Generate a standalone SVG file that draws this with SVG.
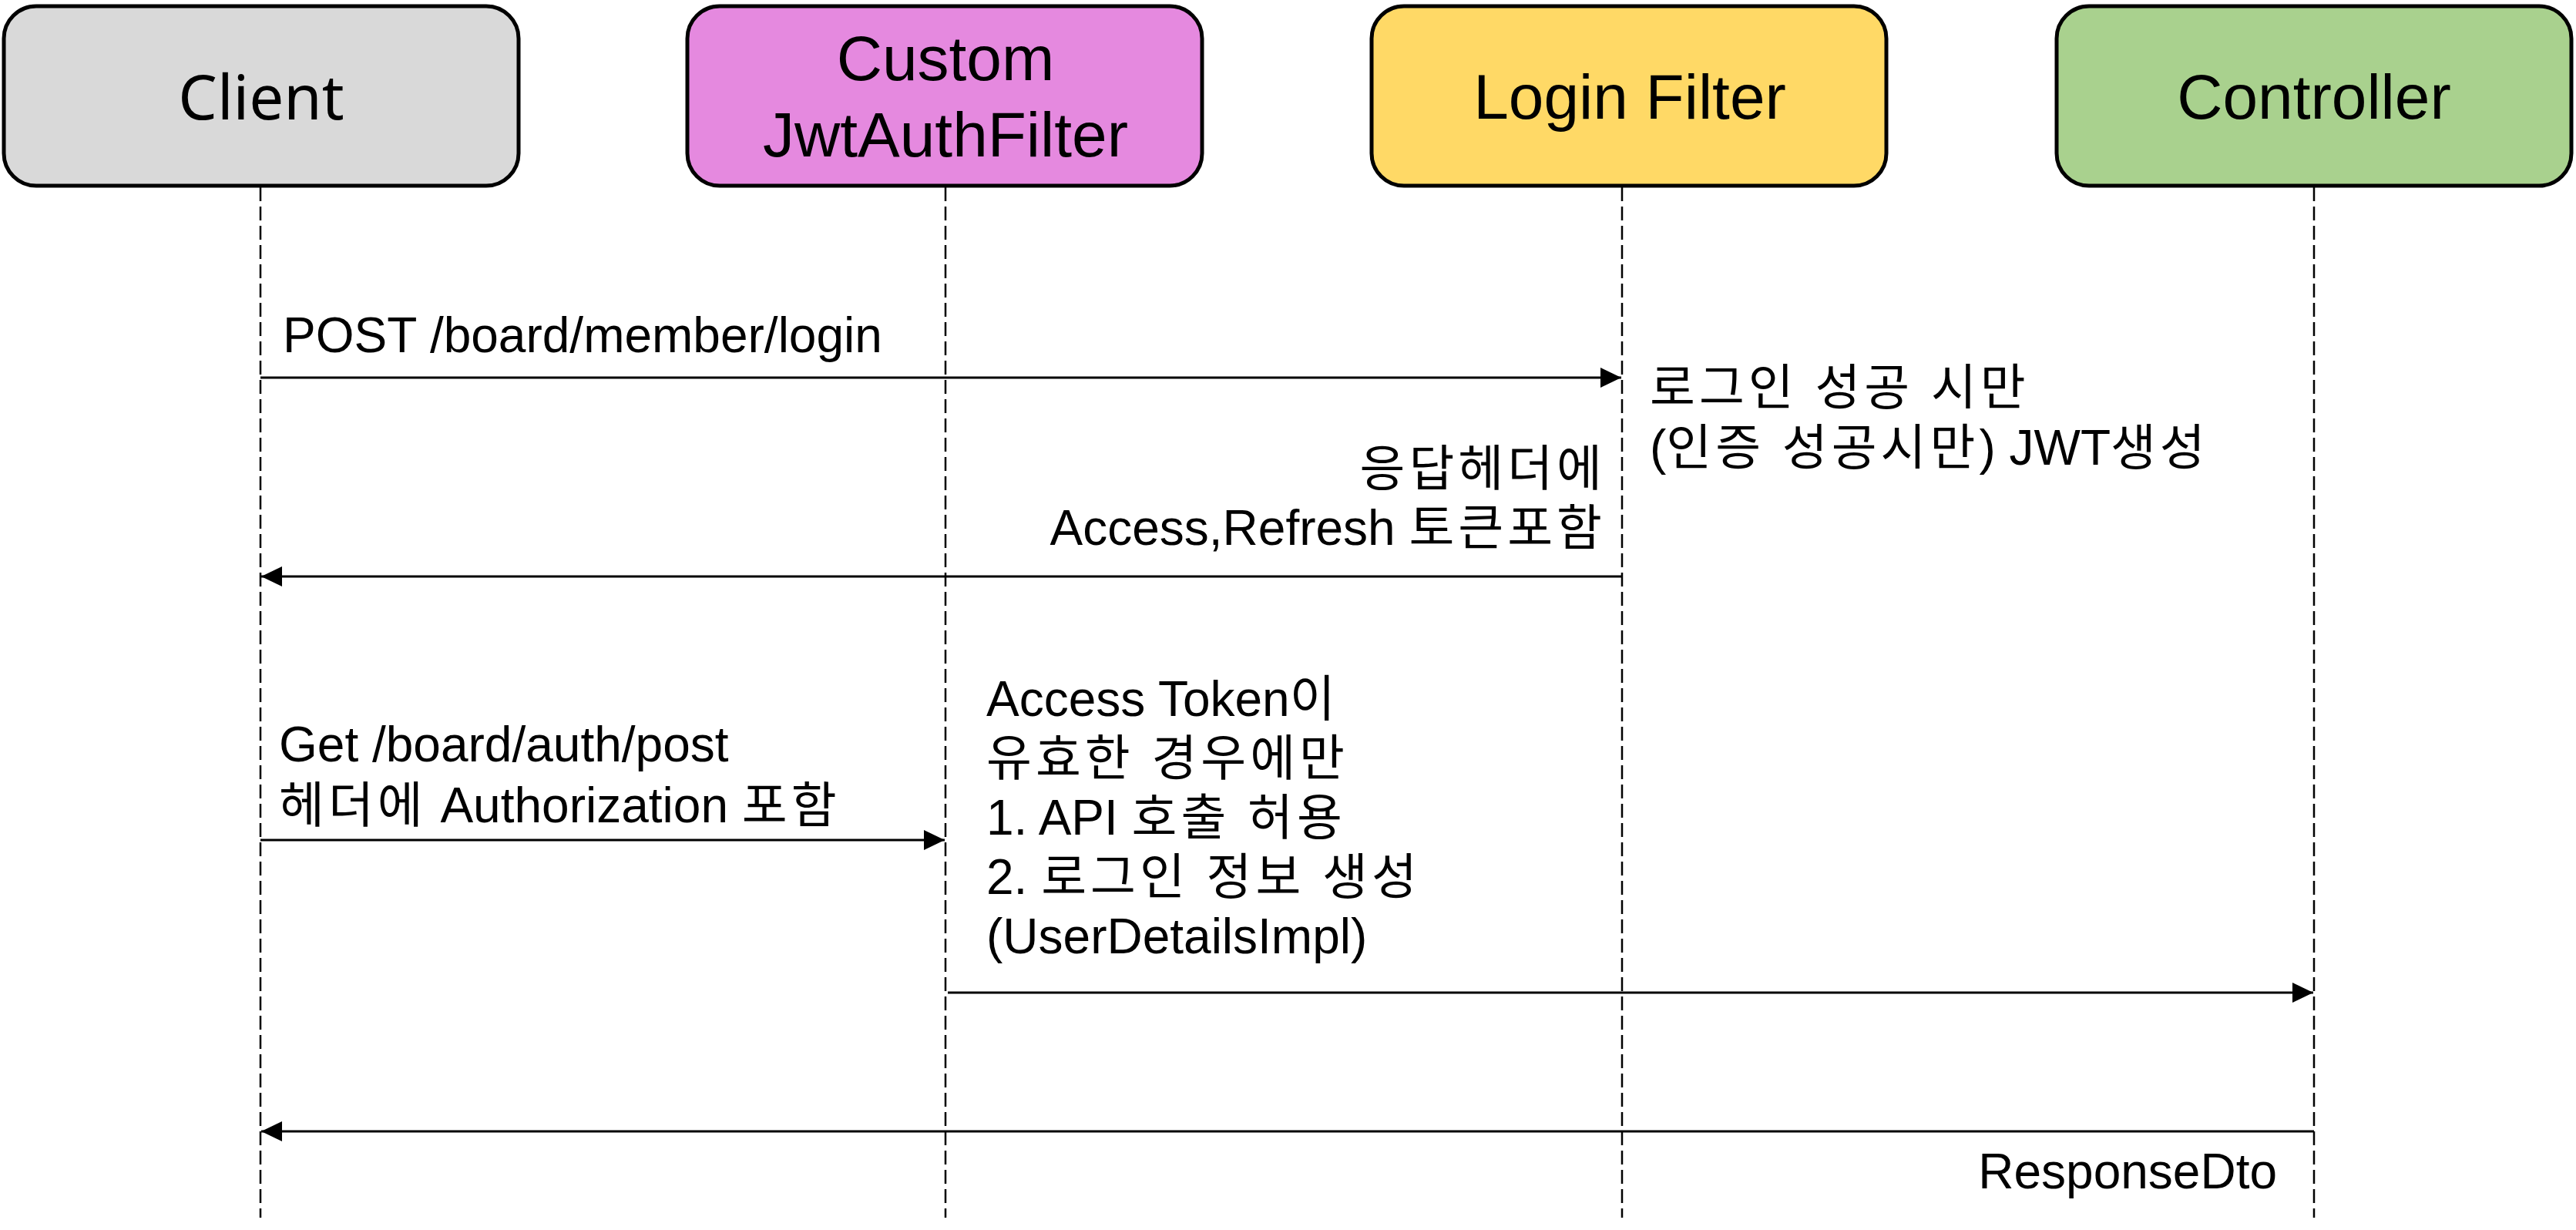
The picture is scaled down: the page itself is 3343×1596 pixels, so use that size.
<svg xmlns="http://www.w3.org/2000/svg" width="3343" height="1596" viewBox="0 0 3343 1596">
<style>
.box{stroke:#000;stroke-width:5}
.nt{font-family:"Liberation Sans","Noto Sans CJK KR",sans-serif;font-size:82px;text-anchor:middle;fill:#000}
.ntc{font-family:"Noto Sans","Noto Sans CJK KR",sans-serif;font-size:80px;text-anchor:middle;fill:#000}
.life{stroke:#000;stroke-width:2.5;stroke-dasharray:18 7;fill:none}
.msg{stroke:#000;stroke-width:3;fill:none;marker-end:url(#ah)}
.lbl{font-family:"Liberation Sans","Noto Sans CJK KR",sans-serif;font-size:64px;fill:#000}
.k{letter-spacing:5px}
.end{text-anchor:end}
</style>
<defs>
<marker id="ah" markerUnits="userSpaceOnUse" markerWidth="28" markerHeight="28" refX="27" refY="13" orient="auto">
<path d="M0,0 L27,13 L0,26 z" fill="#000"/>
</marker>
</defs>
<rect width="3343" height="1596" fill="#fff"/>
<g id="lifelines">
<line class="life" x1="338" y1="243" x2="338" y2="1580"/>
<line class="life" x1="1227" y1="243" x2="1227" y2="1580"/>
<line class="life" x1="2105" y1="243" x2="2105" y2="1580"/>
<line class="life" x1="3003" y1="243" x2="3003" y2="1580"/>
</g>
<g id="client">
<rect class="box" x="5" y="8" width="668" height="233" rx="42" ry="42" fill="#D9D9D9"/>
<text class="ntc" x="339" y="155">Client</text>
</g>
<g id="jwtauthfilter">
<rect class="box" x="892" y="8" width="668" height="233" rx="42" ry="42" fill="#E589DF"/>
<text class="nt" x="1227" y="104">Custom</text>
<text class="nt" x="1227" y="203">JwtAuthFilter</text>
</g>
<g id="loginfilter">
<rect class="box" x="1780" y="8" width="668" height="233" rx="42" ry="42" fill="#FFD966"/>
<text class="nt" x="2115" y="154">Login Filter</text>
</g>
<g id="controller">
<rect class="box" x="2669" y="8" width="668" height="233" rx="42" ry="42" fill="#A9D18E"/>
<text class="nt" x="3003" y="154">Controller</text>
</g>
<g id="connectors">
<line class="msg" x1="338" y1="490" x2="2104" y2="490"/>
<line class="msg" x1="2105" y1="748" x2="339" y2="748"/>
<line class="msg" x1="338" y1="1090" x2="1226" y2="1090"/>
<line class="msg" x1="1230" y1="1288" x2="3002" y2="1288"/>
<line class="msg" x1="3003" y1="1468" x2="339" y2="1468"/>
</g>
<g id="labels">
<text class="lbl" x="367" y="457">POST /board/member/login</text>
<text class="lbl" x="2141" y="525"><tspan class="k">로그인 성공 시만</tspan></text>
<text class="lbl" x="2141" y="603">(<tspan class="k">인증 성공시만</tspan>) JWT<tspan class="k">생성</tspan></text>
<text class="lbl end" x="2079" y="630"><tspan class="k">응답헤더</tspan>에</text>
<text class="lbl end" x="2079" y="707">Access,Refresh <tspan class="k">토큰포</tspan>함</text>
<text class="lbl" x="362" y="988">Get /board/auth/post</text>
<text class="lbl" x="362" y="1067"><tspan class="k">헤더에</tspan> Authorization <tspan class="k">포함</tspan></text>
<text class="lbl" x="1280" y="929">Access Token<tspan class="k">이</tspan></text>
<text class="lbl" x="1280" y="1006"><tspan class="k">유효한 경우에만</tspan></text>
<text class="lbl" x="1280" y="1083">1. API <tspan class="k">호출 허용</tspan></text>
<text class="lbl" x="1280" y="1160">2. <tspan class="k">로그인 정보 생성</tspan></text>
<text class="lbl" x="1280" y="1237">(UserDetailsImpl)</text>
<text class="lbl end" x="2955" y="1542">ResponseDto</text>
</g>
</svg>
